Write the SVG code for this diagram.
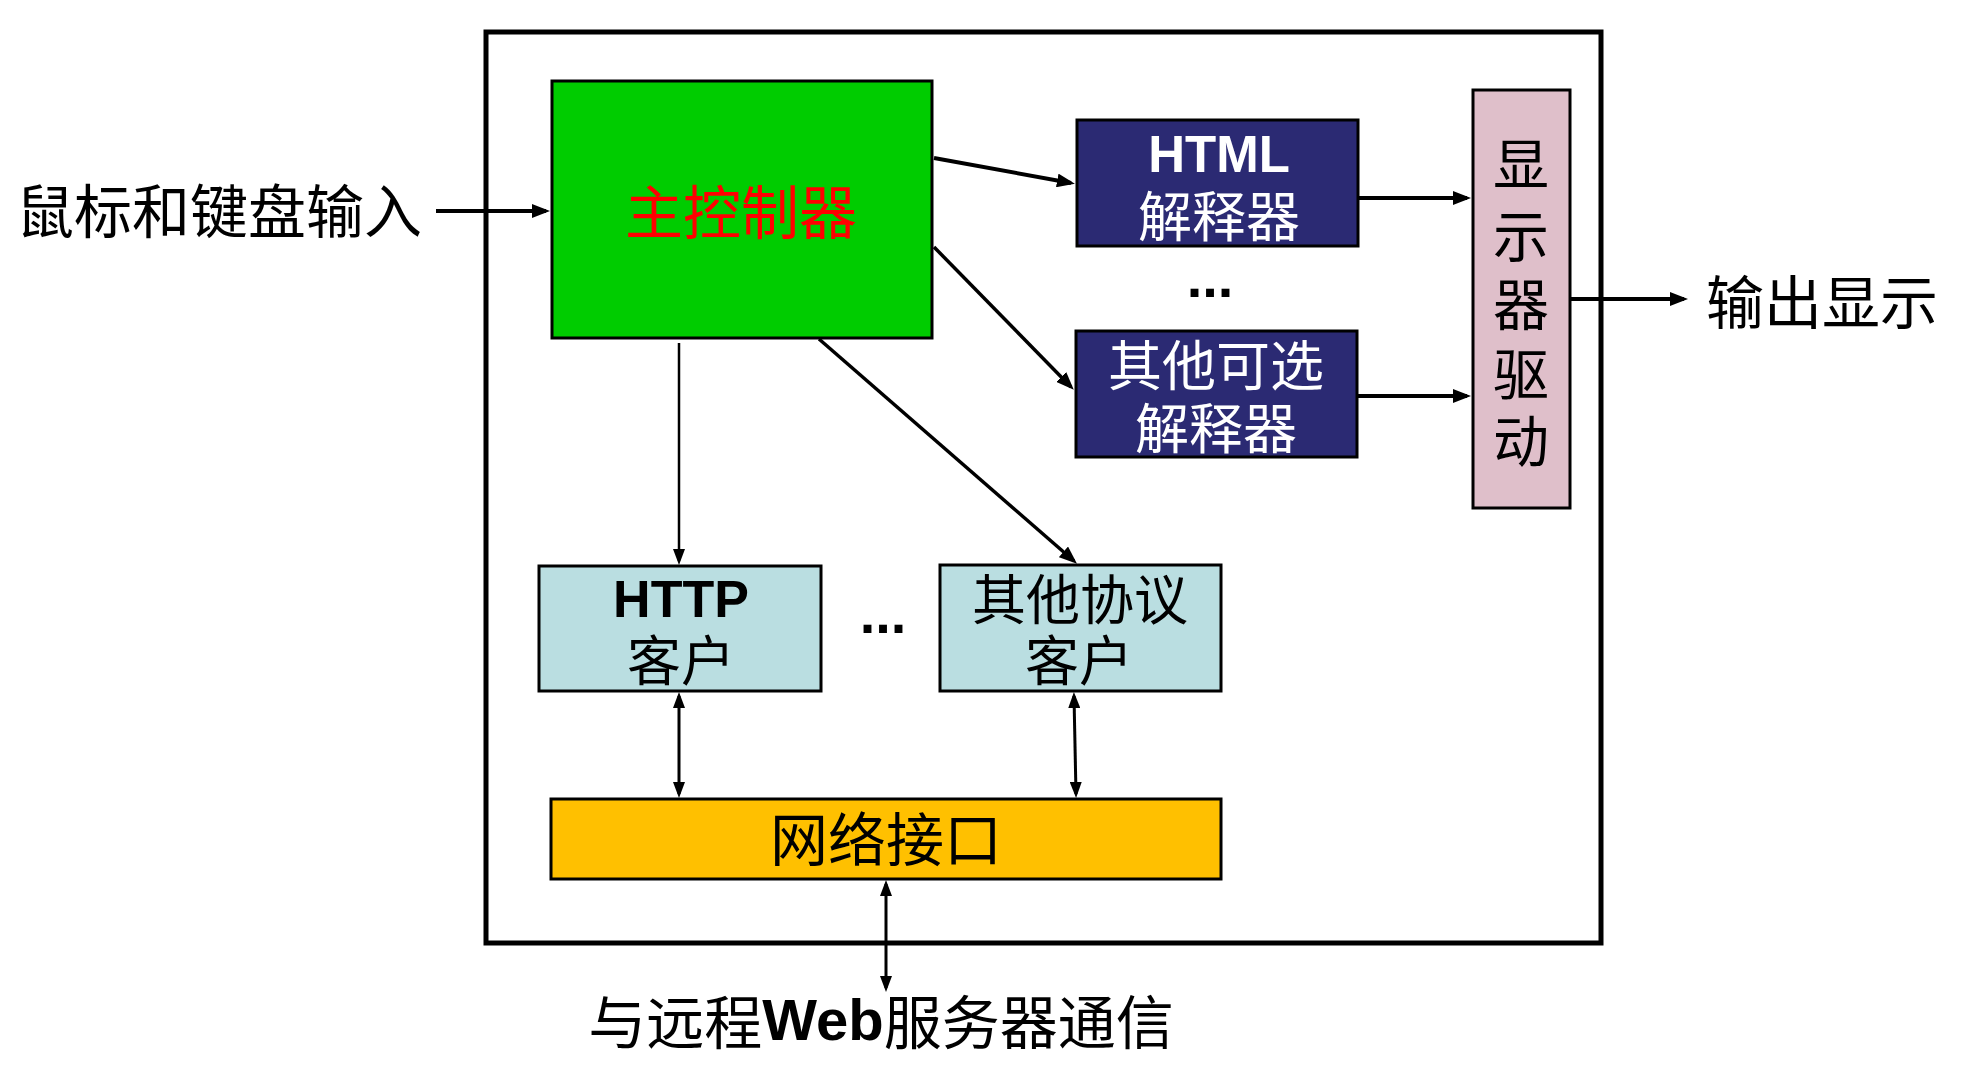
<svg xmlns="http://www.w3.org/2000/svg" width="1982" height="1071" viewBox="0 0 1982 1071">
<style>
.cn{font-family:"Noto Sans CJK SC","Liberation Sans",sans-serif;dominant-baseline:central;text-anchor:middle}
.lat{font-family:"Liberation Sans","Noto Sans CJK SC",sans-serif;font-weight:bold;dominant-baseline:central;text-anchor:middle}
.box{stroke:#000;stroke-width:3}
.conn line{stroke:#000;fill:none}
.dots{font-family:"Liberation Sans",sans-serif;font-weight:bold;font-size:56px;text-anchor:middle}
</style>
<defs>
<marker id="ah" markerUnits="userSpaceOnUse" markerWidth="18" markerHeight="14" refX="14" refY="7" orient="auto-start-reverse" viewBox="0 0 18 14">
<path d="M0,0 L18,7 L0,14 z" fill="#000"/>
</marker>
<marker id="ahs" markerUnits="userSpaceOnUse" markerWidth="16" markerHeight="12" refX="12" refY="6" orient="auto-start-reverse" viewBox="0 0 16 12">
<path d="M0,0 L16,6 L0,12 z" fill="#000"/>
</marker>
</defs>
<rect width="1982" height="1071" fill="#fff"/>
<g id="frame"><rect x="486" y="32" width="1115" height="911" fill="none" stroke="#000" stroke-width="5"/></g>

<g id="input-label"><text class="cn" x="219" y="208" font-size="58">鼠标和键盘输入</text></g>
<g id="main-controller">
<rect class="box" x="552" y="81" width="380" height="257" fill="#00CC00"/>
<text class="cn" x="741" y="209" font-size="58" fill="#FF0000">主控制器</text>
</g>
<g id="html-interpreter">
<rect class="box" x="1077" y="120" width="281" height="126" fill="#2B2A73"/>
<text class="lat" x="1219" y="154" font-size="51" fill="#fff">HTML</text>
<text class="cn" x="1219" y="213" font-size="54" fill="#fff">解释器</text>
</g>
<g id="interp-dots"><text class="dots" x="1210" y="297">...</text></g>
<g id="other-interpreter">
<rect class="box" x="1076" y="331" width="281" height="126" fill="#2B2A73"/>
<text class="cn" x="1216" y="362" font-size="54" fill="#fff">其他可选</text>
<text class="cn" x="1216" y="425" font-size="54" fill="#fff">解释器</text>
</g>
<g id="display-driver">
<rect class="box" x="1473" y="90" width="97" height="418" fill="#DFBFCA"/>
<text class="cn" x="1521" y="160" font-size="56">显</text>
<text class="cn" x="1521" y="232" font-size="56">示</text>
<text class="cn" x="1521" y="300" font-size="56">器</text>
<text class="cn" x="1521" y="370" font-size="56">驱</text>
<text class="cn" x="1521" y="437" font-size="56">动</text>
</g>
<g id="output-label"><text class="cn" x="1822" y="299" font-size="58">输出显示</text></g>
<g id="http-client">
<rect class="box" x="539" y="566" width="282" height="125" fill="#BADEE1"/>
<text class="lat" x="681" y="599" font-size="52" fill="#000">HTTP</text>
<text class="cn" x="681" y="657" font-size="54">客户</text>
</g>
<g id="client-dots"><text class="dots" x="883" y="633">...</text></g>
<g id="other-client">
<rect class="box" x="940" y="565" width="281" height="126" fill="#BADEE1"/>
<text class="cn" x="1080" y="596" font-size="54">其他协议</text>
<text class="cn" x="1079" y="657" font-size="54">客户</text>
</g>
<g id="network-interface">
<rect class="box" x="551" y="799" width="670" height="80" fill="#FFC000"/>
<text class="cn" x="886" y="836" font-size="58">网络接口</text>
</g>
<g id="remote-label"><text class="cn" x="881" y="1019" font-size="58">与远程<tspan font-family="Liberation Sans" font-weight="bold">Web</tspan>服务器通信</text></g>

<g id="connectors" class="conn">
<line x1="436" y1="211" x2="546" y2="211" stroke-width="4" marker-end="url(#ah)"/>
<line x1="934" y1="158" x2="1071" y2="183" stroke-width="4" marker-end="url(#ah)"/>
<line x1="934" y1="247" x2="1071" y2="387" stroke-width="3.5" marker-end="url(#ah)"/>
<line x1="679" y1="343" x2="679" y2="561" stroke-width="2.5" marker-end="url(#ahs)"/>
<line x1="819" y1="339" x2="1074" y2="561" stroke-width="3.5" marker-end="url(#ah)"/>
<line x1="1358" y1="198" x2="1467" y2="198" stroke-width="4" marker-end="url(#ah)"/>
<line x1="1357" y1="396" x2="1467" y2="396" stroke-width="4" marker-end="url(#ah)"/>
<line x1="1570" y1="299" x2="1684" y2="299" stroke-width="4" marker-end="url(#ah)"/>
<line x1="679" y1="696" x2="679" y2="794" stroke-width="3" marker-start="url(#ahs)" marker-end="url(#ahs)"/>
<line x1="1074" y1="696" x2="1076" y2="794" stroke-width="3" marker-start="url(#ahs)" marker-end="url(#ahs)"/>
<line x1="886" y1="884" x2="886" y2="988" stroke-width="3" marker-start="url(#ahs)" marker-end="url(#ahs)"/>
</g>
</svg>
